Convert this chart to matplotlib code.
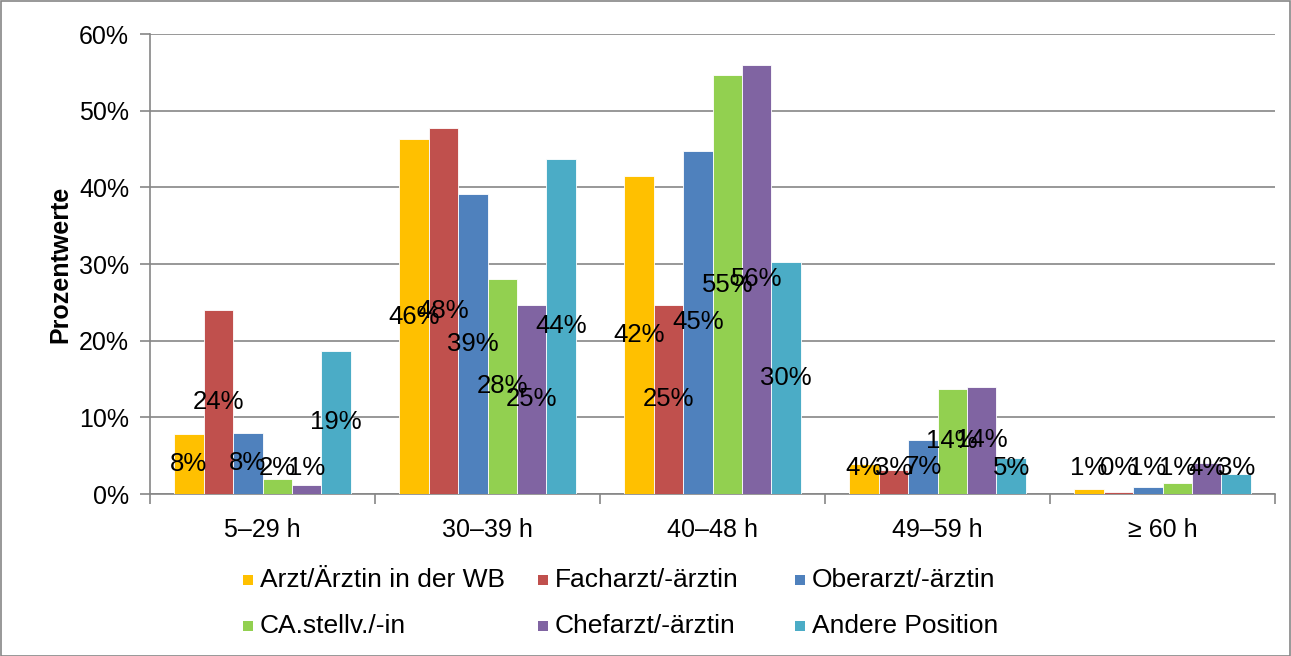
import matplotlib
matplotlib.use("Agg")
import matplotlib.pyplot as plt
import numpy as np
from matplotlib.patches import Rectangle

plt.rcParams['font.family'] = ['Liberation Sans', 'DejaVu Sans']

categories = ["5–29 h", "30–39 h", "40–48 h", "49–59 h", "≥ 60 h"]
series = ["Arzt/Ärztin in der WB", "Facharzt/-ärztin", "Oberarzt/-ärztin",
          "CA.stellv./-in", "Chefarzt/-ärztin", "Andere Position"]
colors = ["#FFC000", "#C0504D", "#4F81BD", "#92D050", "#8064A2", "#4BACC6"]

arzt_wb = [7.8, 46.3, 41.5, 3.9, 0.6]
facharzt = [24.0, 47.7, 24.7, 3.1, 0.3]
oberarzt = [8.0, 39.1, 44.8, 7.0, 0.9]
ca_stellv = [2.0, 28.1, 54.6, 13.7, 1.4]
chefarzt = [1.2, 24.7, 56.0, 14.0, 4.1]
andere = [18.7, 43.7, 30.2, 4.7, 2.6]
values = [arzt_wb, facharzt, oberarzt, ca_stellv, chefarzt, andere]

fig = plt.figure(figsize=(12.91, 6.56), dpi=100)
ax = fig.add_axes([150 / 1291, 1 - 494 / 656, 1125 / 1291, 460 / 656])

x = np.arange(len(categories))
width = 0.131
for i, (vals, col) in enumerate(zip(values, colors)):
    pos = x + (i - 2.5) * width
    ax.bar(pos, vals, width, color=col, edgecolor="white", linewidth=0.6, zorder=3)
    for p, v in zip(pos, vals):
        # centred labels, but kept inside the plot like Excel does
        ax.text(p, max(v / 2, 3.4), f"{round(v)}%", ha="center", va="center",
                fontsize=18.5, color="black", zorder=4)

ax.set_xlim(-0.5, len(categories) - 0.5)
ax.set_ylim(0, 60)
ax.set_yticks(range(0, 61, 10))
ax.set_yticklabels([f"{t}%" for t in range(0, 61, 10)], fontsize=18)
ax.set_xticks(x)
ax.set_xticklabels(categories, fontsize=18)
ax.set_xticks(np.arange(-0.5, len(categories), 1), minor=True)
ax.tick_params(axis="x", which="major", length=0, pad=17)
ax.tick_params(axis="x", which="minor", length=7, color="#868686", width=1.2,
               direction="out")
ax.tick_params(axis="y", length=7, color="#868686", width=1.2, pad=8)
ax.grid(axis="y", color="#868686", linewidth=1.2, zorder=0)
for s in ["top", "right"]:
    ax.spines[s].set_visible(False)
for s in ["left", "bottom"]:
    ax.spines[s].set_color("#868686")
    ax.spines[s].set_linewidth(1.2)
ax.set_ylabel("Prozentwerte", fontsize=18, fontweight="bold", labelpad=5)

# legend, three columns x two rows as in the original
leg_x = [243, 538, 795]
leg_y = [580, 626]
for k, (name, col) in enumerate(zip(series, colors)):
    r, c = divmod(k, 3)
    fig.patches.append(Rectangle(((leg_x[c]) / 1291, 1 - (leg_y[r] + 5) / 656),
                                 10 / 1291, 10 / 656, transform=fig.transFigure,
                                 facecolor=col, edgecolor="none"))
    fig.text((leg_x[c] + 17) / 1291, 1 - leg_y[r] / 656, name, fontsize=19,
             va="center", ha="left")

# outer chart border
fig.patches.append(Rectangle((0.5 / 1291, 0.5 / 656), 1 - 1.5 / 1291, 1 - 1.5 / 656,
                             transform=fig.transFigure, fill=False,
                             edgecolor="#868686", linewidth=1.2))

fig.savefig("out.png", dpi=100)
